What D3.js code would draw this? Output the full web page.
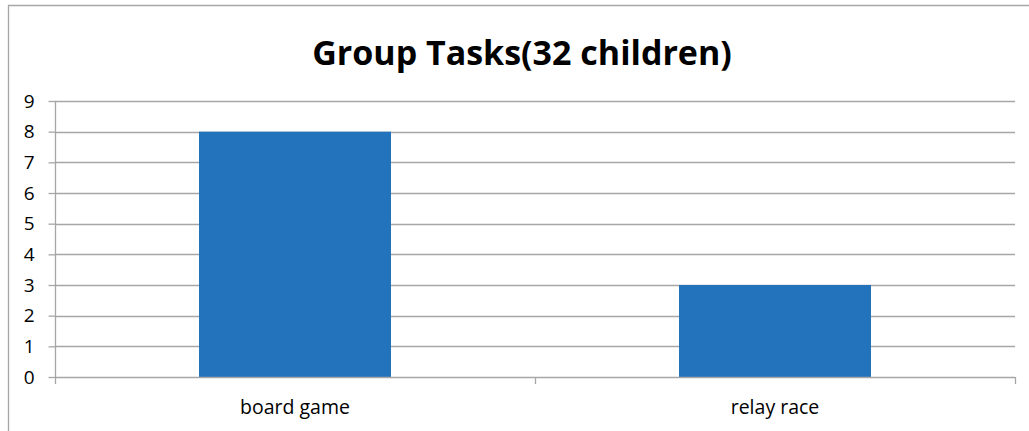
<!DOCTYPE html>
<html><head><meta charset="utf-8">
<script src="https://cdn.jsdelivr.net/npm/d3@7"></script>
<style>html,body{margin:0;padding:0;background:#fff;}svg{display:block;}</style>
</head><body>
<svg id="c" width="1029" height="431"></svg>
<script>
const categories = ["board game", "relay race"];
const values = [8, 3];
const yTicks = [0,1,2,3,4,5,6,7,8,9];
const title = "Group Tasks(32 children)";

const svg = d3.select("#c");
const W = 1029, H = 431;
const m = {left: 55, right: 1015, top: 101, bottom: 377};
const font = "'Open Sans', sans-serif";

// outer chart border
svg.append("path").attr("d", `M8.5,${H+2}V5.5H${W+2}`).attr("fill","none").attr("stroke","#a6a6a6").attr("stroke-width",1.3);

const x = d3.scaleBand().domain(categories).range([m.left, m.right]).paddingInner(0.6).paddingOuter(0.3);
const xOuter = d3.scaleBand().domain(categories).range([m.left, m.right]);
const y = d3.scaleLinear().domain([0, 9]).range([m.bottom, m.top]);

// gridlines
svg.append("g").selectAll("line").data(yTicks.filter(d=>d>0)).join("line")
  .attr("x1", m.left).attr("x2", m.right)
  .attr("y1", d=>Math.round(y(d))+0.5).attr("y2", d=>Math.round(y(d))+0.5)
  .attr("stroke", "#a6a6a6").attr("stroke-width", 1.3);

// bars
svg.append("g").selectAll("rect").data(values).join("rect")
  .attr("x", (d,i)=>x(categories[i]))
  .attr("width", x.bandwidth())
  .attr("y", d=>y(d))
  .attr("height", d=>y(0)-y(d))
  .attr("fill", "#2372bc");

// y axis
const yAxis = d3.axisLeft(y).tickValues(yTicks).tickSize(7).tickPadding(14).tickFormat(d3.format("d"));
const gy = svg.append("g").attr("transform", `translate(${m.left+0.5},0)`).call(yAxis);
gy.select(".domain").attr("stroke","#a6a6a6").attr("stroke-width",1.3).attr("d", `M0,${m.top}V${m.bottom}`);
gy.selectAll(".tick line").attr("stroke","#a6a6a6").attr("stroke-width",1.3);
gy.selectAll(".tick text").attr("font-family", font).attr("font-size", 19).attr("fill","#000");

// x axis
const xAxis = d3.axisBottom(xOuter).tickSize(0).tickPadding(23);
const gx = svg.append("g").attr("transform", `translate(0,${m.bottom+0.5})`).call(xAxis);
gx.select(".domain").attr("stroke","#a6a6a6").attr("stroke-width",1.3).attr("d", `M${m.left},0H${m.right}`);
gx.selectAll(".tick text").attr("font-family", font).attr("font-size", 19.5).attr("fill","#000");
// category boundary ticks
const bounds = [m.left, ...categories.slice(1).map(c=>xOuter(c)), m.right];
svg.append("g").selectAll("line").data(bounds).join("line")
  .attr("x1", d=>d+0.5).attr("x2", d=>d+0.5).attr("y1", m.bottom).attr("y2", m.bottom+7)
  .attr("stroke","#a6a6a6").attr("stroke-width",1.3);

// title
svg.append("text").attr("x", 522).attr("y", 65).attr("text-anchor","middle")
  .attr("font-family", font).attr("font-weight","bold").attr("font-size", 34).attr("fill","#000")
  .text(title);
</script>
</body></html>
